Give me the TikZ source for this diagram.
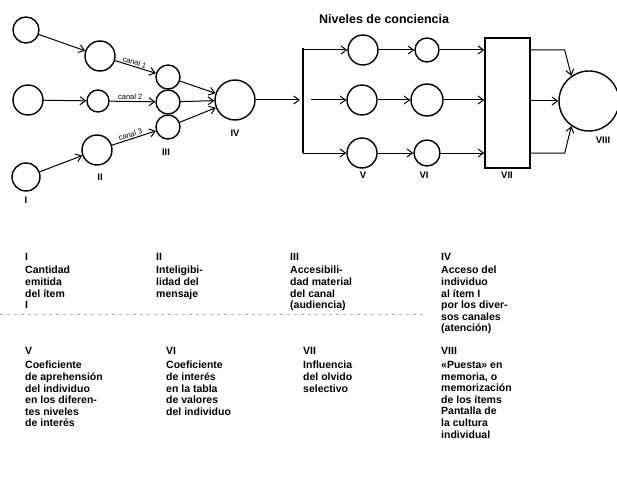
\documentclass[tikz,border=0pt]{standalone}
\usepackage{fontspec}
\setmainfont{Liberation Sans}
\usetikzlibrary{arrows.meta}
\tikzset{
  ci/.style={circle, draw, line width=1.4pt, inner sep=0pt, minimum size=#1},
  arr/.style={line width=1pt, -{Straight Barb[length=5.5pt,width=8pt,line width=1pt]}},
  lbl/.style={font=\bfseries\fontsize{9.5}{10}\selectfont, inner sep=0pt},
  canal/.style={font=\fontsize{7.5}{8}\selectfont, inner sep=1pt},
  head/.style={font=\bfseries\fontsize{10.5}{12}\selectfont, inner sep=0pt, anchor=west},
  desc/.style={font=\bfseries\fontsize{10.5}{11.6}\selectfont, inner sep=0pt, anchor=north west, align=left},
}
\begin{document}
\begin{tikzpicture}[x=1pt,y=-1pt]
\useasboundingbox (0,0) rectangle (617,489);
% column I
\node[ci=26pt] (a1) at (26,30) {};
\node[ci=30pt] (a2) at (28,100) {};
\node[ci=28pt] (a3) at (26,177) {};
% column II
\node[ci=30pt] (b1) at (100,56) {};
\node[ci=22pt] (b2) at (98,101) {};
\node[ci=30pt] (b3) at (97,150) {};
% column III
\node[ci=24pt] (c1) at (168,77) {};
\node[ci=24pt] (c2) at (168,102) {};
\node[ci=24pt] (c3) at (168,127) {};
% IV
\node[ci=40pt] (d) at (235,100) {};
% bracket
\coordinate (bt) at (303,50);
\coordinate (bm) at (303,100);
\coordinate (bb) at (303,153);
\coordinate (bin) at (300,100);
% V
\node[ci=30pt] (e1) at (363,50) {};
\node[ci=30pt] (e2) at (362,100) {};
\node[ci=30pt] (e3) at (362,153) {};
% VI
\node[ci=24pt] (f1) at (427,50) {};
\node[ci=32pt] (f2) at (427,100) {};
\node[ci=26pt] (f3) at (427,153) {};
% VII
\node[draw, line width=1.4pt, minimum width=45pt, minimum height=130pt, inner sep=0pt] (g) at (507.5,103) {};
% VIII
\node[ci=60pt] (h) at (589,101) {};

% connectors
\draw[arr] (a1) -- (b1);
\draw[arr] (a2) -- (b2);
\draw[arr] (a3) -- (b3);
\draw[arr] (b1) -- node[canal, above, sloped, pos=0.45] {canal 1} (c1);
\draw[arr] (b2) -- node[canal, above, sloped, pos=0.45] {canal 2} (c2);
\draw[arr] (b3) -- node[canal, above, sloped, pos=0.45] {canal 3} (c3);
\draw[arr] (c1) -- (d);
\draw[arr] (c2) -- (d);
\draw[arr] (c3) -- (d);
\draw[arr] (d) -- (bin);
\draw[line width=1.4pt] ([yshift=2pt]bt) -- (bb);
\draw[arr] (bt) -- (e1);
\draw[arr] ([xshift=8pt]bm) -- (e2);
\draw[arr] (bb) -- (e3);
\draw[arr] (e1) -- (f1);
\draw[arr] (e2) -- (f2);
\draw[arr] (e3) -- (f3);
\draw[arr] (f1) -- (f1 -| g.west);
\draw[arr] (f2) -- (f2 -| g.west);
\draw[arr] (f3) -- (f3 -| g.west);
\draw[arr] (g.east |- f1) -- ++(34,0) -- (h.125);
\draw[arr] (g.east |- h) -- (h);
\draw[arr] (g.east |- f3) -- ++(34,0) -- (h.235);

% labels of the diagram
\node[lbl] (lI) at (26,200) {I};
\node[lbl] (lII) at (100,177) {II};
\node[lbl] (lIII) at (166,152) {III};
\node[lbl] (lIV) at (235,133) {IV};
\node[lbl] (lV) at (363,175) {V};
\node[lbl] (lVI) at (424,175) {VI};
\node[lbl] (lVII) at (507,175) {VII};
\node[lbl] (lVIII) at (603,140) {VIII};
\node[font=\bfseries\fontsize{12.5}{14}\selectfont, anchor=west, inner sep=0pt] (niv) at (319,19) {Niveles de conciencia};

% legend row 1
\node[head] (hI) at (25,257) {I};
\node[head] (hII) at (156,257) {II};
\node[head] (hIII) at (290,257) {III};
\node[head] (hIV) at (441,257) {IV};
\node[desc] (tI) at (25,266) {Cantidad\\emitida\\del ítem\\I};
\node[desc] (tII) at (156,266) {Inteligibi-\\lidad del\\mensaje};
\node[desc] (tIII) at (290,266) {Accesibili-\\dad material\\del canal\\(audiencia)};
\node[desc] (tIV) at (441,266) {Acceso del\\individuo\\al ítem I\\por los diver-\\sos canales\\(atención)};

\draw[gray!60, line width=0.6pt, dash pattern=on 3pt off 4pt] (0,314) -- (425,314);

% legend row 2
\node[head] (hV) at (25,351) {V};
\node[head] (hVI) at (166,351) {VI};
\node[head] (hVII) at (303,351) {VII};
\node[head] (hVIII) at (441,351) {VIII};
\node[desc] (tV) at (25,361) {Coeficiente\\de aprehensión\\del individuo\\en los diferen-\\tes niveles\\de interés};
\node[desc] (tVI) at (166,361) {Coeficiente\\de interés\\en la tabla\\de valores\\del individuo};
\node[desc] (tVII) at (303,361) {Influencia\\del olvido\\selectivo};
\node[desc] (tVIII) at (441,361) {«Puesta» en\\memoria, o\\memorización\\de los ítems\\Pantalla de\\la cultura\\individual};
\end{tikzpicture}
\end{document}
